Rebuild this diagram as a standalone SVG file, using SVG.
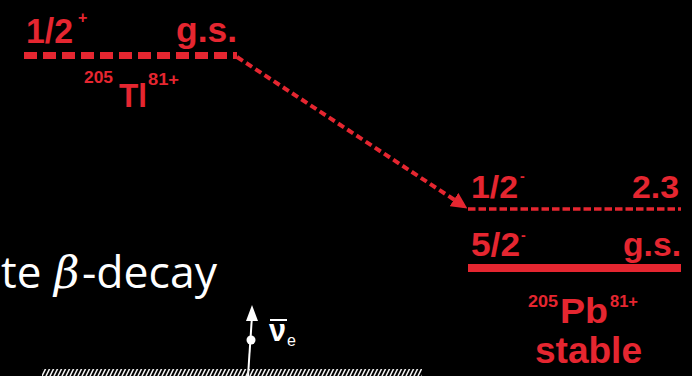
<svg xmlns="http://www.w3.org/2000/svg" width="692" height="376" viewBox="0 0 692 376">
  <style>
    .red { fill: #e52630; font-family: "Liberation Sans", Arial, sans-serif; font-weight: bold; }
    .lvl { fill: none; stroke: #e52630; }
    .white { fill: #ffffff; font-family: "Open Sans", "Liberation Sans", sans-serif; }
  </style>
  <defs>
    <marker id="ah" viewBox="0 0 10 10" refX="9" refY="5" markerWidth="4" markerHeight="4" orient="auto" markerUnits="strokeWidth">
      <path d="M0,0 L10,5 L0,10 Z" fill="#e52630"/>
    </marker>
    <pattern id="hatch" width="4" height="8" patternUnits="userSpaceOnUse">
      <path d="M-2,8 L2,0 M2,8 L6,0" stroke="#f0f0f0" stroke-width="1.6"/>
    </pattern>
  </defs>
  <rect width="692" height="376" fill="#000000"/>

  <g id="tl205">
    <line class="lvl" x1="24" y1="55.5" x2="237" y2="55.5" stroke-width="7" stroke-dasharray="13 6"/>
    <text class="red" x="26" y="43" font-size="35" textLength="47" lengthAdjust="spacingAndGlyphs">1/2</text>
    <text class="red" x="78" y="23" font-size="16">+</text>
    <text class="red" x="176" y="42" font-size="35" textLength="61" lengthAdjust="spacingAndGlyphs">g.s.</text>
    <text class="red" x="84" y="83" font-size="17" textLength="29" lengthAdjust="spacingAndGlyphs">205</text>
    <text class="red" x="119" y="107" font-size="33" textLength="28" lengthAdjust="spacingAndGlyphs">Tl</text>
    <text class="red" x="148" y="85" font-size="17" textLength="31" lengthAdjust="spacingAndGlyphs">81+</text>
  </g>

  <g id="pb205-excited">
    <line class="lvl" x1="468" y1="209" x2="681" y2="209" stroke-width="3.5" stroke-dasharray="7.5 3"/>
    <text class="red" x="471" y="198" font-size="32" textLength="47" lengthAdjust="spacingAndGlyphs">1/2</text>
    <text class="red" x="520" y="181" font-size="14">-</text>
    <text class="red" x="632" y="198" font-size="32" textLength="47" lengthAdjust="spacingAndGlyphs">2.3</text>
  </g>

  <g id="pb205-gs">
    <line class="lvl" x1="468" y1="268" x2="681" y2="268" stroke-width="8"/>
    <text class="red" x="471" y="256" font-size="34" textLength="49" lengthAdjust="spacingAndGlyphs">5/2</text>
    <text class="red" x="521" y="240" font-size="14">-</text>
    <text class="red" x="623" y="256" font-size="34" textLength="58" lengthAdjust="spacingAndGlyphs">g.s.</text>
    <text class="red" x="528" y="307" font-size="17" textLength="30" lengthAdjust="spacingAndGlyphs">205</text>
    <text class="red" x="560" y="323" font-size="35" textLength="48" lengthAdjust="spacingAndGlyphs">Pb</text>
    <text class="red" x="610" y="307" font-size="17" textLength="28" lengthAdjust="spacingAndGlyphs">81+</text>
    <text class="red" x="535" y="363" font-size="36" textLength="107" lengthAdjust="spacingAndGlyphs">stable</text>
  </g>

  <g id="connectors">
    <line x1="237" y1="57" x2="466" y2="207.5" stroke="#e52630" stroke-width="4" stroke-dasharray="7 4" marker-end="url(#ah)"/>
  </g>

  <g id="title">
    <text class="white" y="288" font-size="44"><tspan x="1">te</tspan><tspan x="54" font-family="'DejaVu Serif', 'Liberation Serif', serif" font-style="italic">β</tspan><tspan x="82" textLength="135" lengthAdjust="spacingAndGlyphs">-decay</tspan></text>
  </g>

  <g id="neutrino">
    <line x1="248" y1="376" x2="252" y2="316" stroke="#ffffff" stroke-width="2"/>
    <path d="M252,305 L258,321 L246,321 Z" fill="#ffffff"/>
    <circle cx="251" cy="340" r="4.5" fill="#ffffff"/>
    <text x="269" y="341" font-size="32" font-weight="bold" fill="#ffffff" font-family="'Liberation Sans', Arial, sans-serif" textLength="17" lengthAdjust="spacingAndGlyphs">ν</text>
    <line x1="270" y1="320" x2="287" y2="320" stroke="#ffffff" stroke-width="2"/>
    <text x="287" y="346" font-size="16" fill="#ffffff" font-family="'Liberation Sans', Arial, sans-serif">e</text>
  </g>

  <g id="surface">
    <rect x="42" y="369" width="380" height="7" fill="url(#hatch)"/>
  </g>
</svg>
